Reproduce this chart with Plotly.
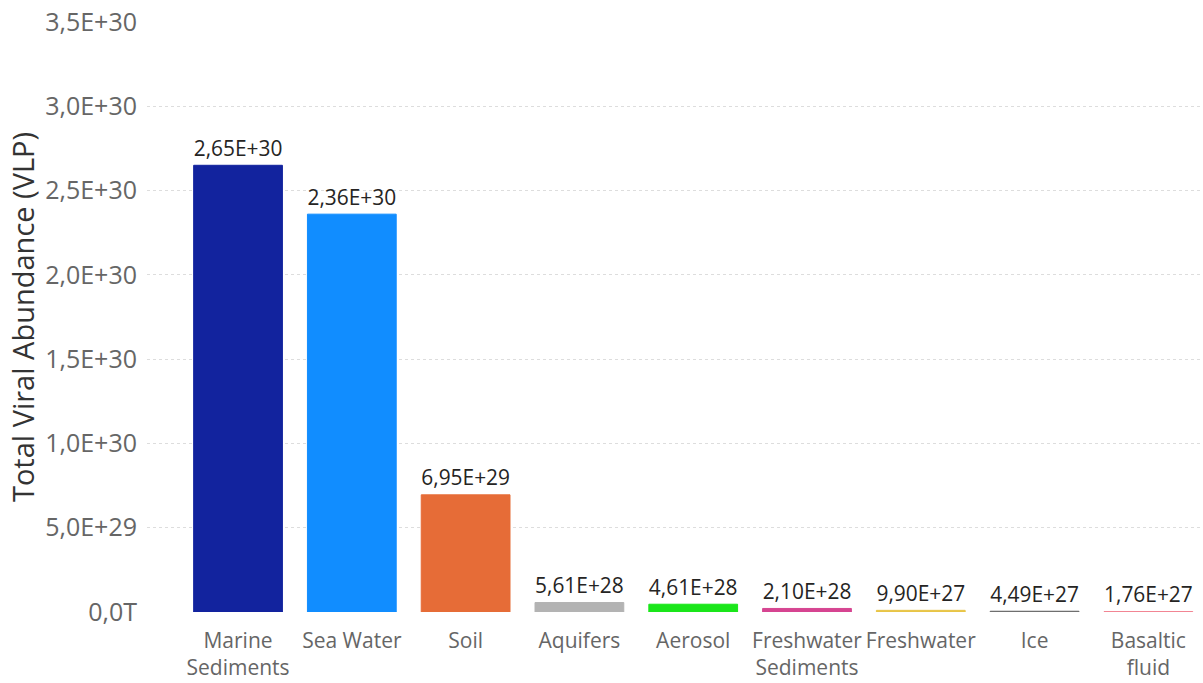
import plotly.graph_objects as go

# Total viral abundance per environment (virus-like particles)
environments = ["Marine<br>Sediments", "Sea Water", "Soil", "Aquifers", "Aerosol",
                "Freshwater<br>Sediments", "Freshwater", "Ice", "Basaltic<br>fluid"]
abundance = [2.65e30, 2.36e30, 6.95e29, 5.61e28, 4.61e28, 2.10e28, 9.90e27, 4.49e27, 1.76e27]
bar_colors = ["#12239E", "#118DFF", "#E66C37", "#B3B3B3", "#1AE61A",
              "#D64591", "#E8C547", "#6B6B6B", "#F07C8A"]

y_tick_values = [0, 5e29, 1.0e30, 1.5e30, 2.0e30, 2.5e30, 3.0e30, 3.5e30]
y_tick_labels = ["0,0T", "5,0E+29", "1,0E+30", "1,5E+30", "2,0E+30",
                 "2,5E+30", "3,0E+30", "3,5E+30"]


def fmt_sci(v):
    return f"{v:.2E}".replace(".", ",")


fig = go.Figure(
    go.Bar(
        x=list(range(len(environments))),
        y=abundance,
        marker=dict(color=bar_colors, line=dict(color=bar_colors, width=1)),
        text=[fmt_sci(v) for v in abundance],
        textposition="outside",
        textfont=dict(family="Open Sans", size=23, color="#252423"),
        cliponaxis=False,
        width=0.78,
    )
)

fig.update_layout(
    width=1203,
    height=683,
    margin=dict(l=147, r=0, t=22, b=71),
    plot_bgcolor="white",
    paper_bgcolor="white",
    showlegend=False,
    font=dict(family="Open Sans", color="#666666"),
    xaxis=dict(
        tickmode="array",
        tickvals=list(range(len(environments))),
        ticktext=environments,
        range=[-0.8, 8.48],
        showgrid=False,
        showline=False,
        zeroline=False,
        tickfont=dict(size=21, color="#666666"),
        ticks="",
        ticklabelstandoff=14,
    ),
    yaxis=dict(
        range=[0, 3.5e30],
        tickmode="array",
        tickvals=y_tick_values,
        ticktext=y_tick_labels,
        tickfont=dict(size=25, color="#666666"),
        showgrid=True,
        gridcolor="#DDDDDD",
        griddash="dot",
        zeroline=False,
        showline=False,
        ticklabelstandoff=9,
        title=dict(text="Total Viral Abundance (VLP)",
                   font=dict(size=29, color="#333333"), standoff=2),
    ),
)

fig.write_html("out.html")
